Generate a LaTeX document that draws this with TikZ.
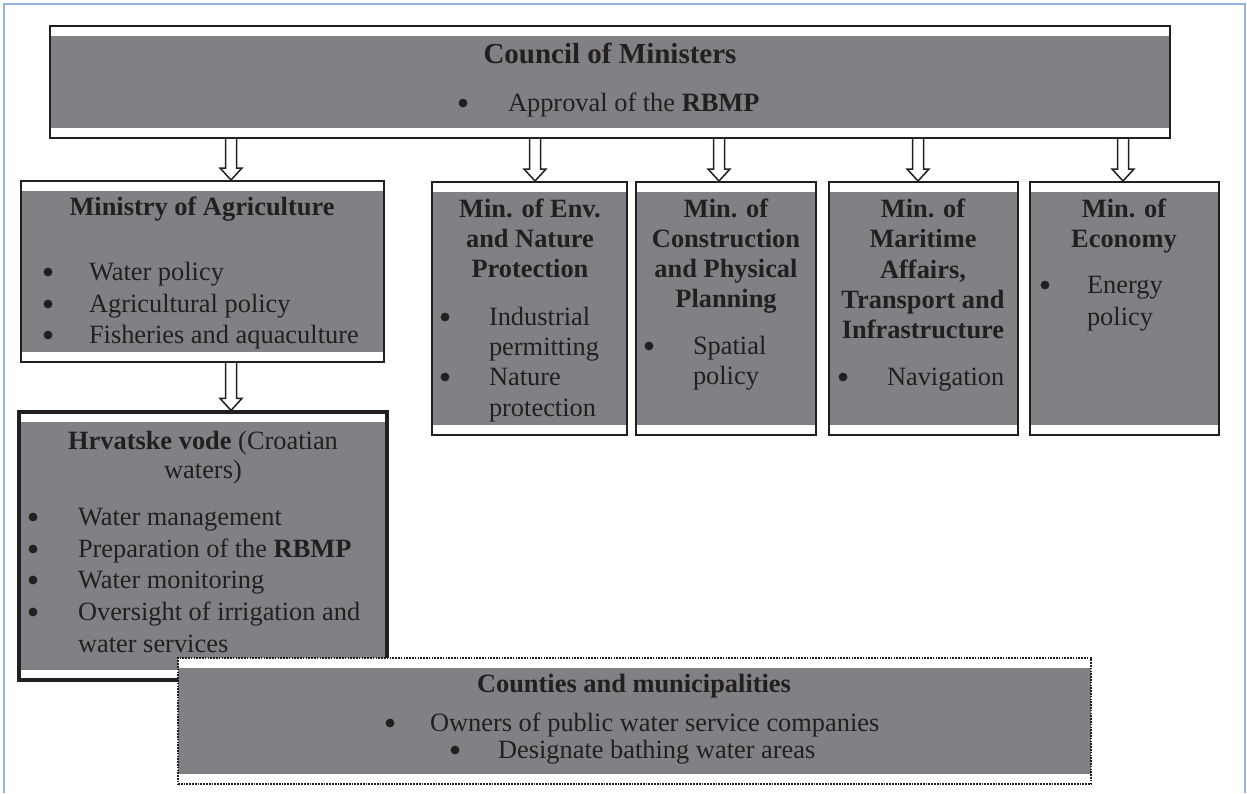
\documentclass[tikz,border=0pt]{standalone}
\usepackage{fontspec}
\setmainfont{Liberation Serif}
\usetikzlibrary{calc,fit}

\definecolor{panelgray}{RGB}{128,129,133}
\definecolor{ink}{RGB}{35,31,32}
\definecolor{frameblue}{RGB}{149,179,222}

\tikzset{
  panel/.style={draw=ink, line width=1pt, fill=white, inner sep=0pt,
    path picture={\fill[panelgray]
      ([yshift=-5pt]path picture bounding box.north west) rectangle
      ([yshift=5pt]path picture bounding box.south east);}},
  heavypanel/.style={panel, line width=1.6pt},
  dottedpanel/.style={panel, line width=0.85pt, dash pattern=on 0.85pt off 0.55pt},
  txt/.style={inner sep=0pt, outer sep=0pt, text=ink,
    font=\fontsize{13.2pt}{15pt}\selectfont},
  dot/.style={circle, fill=ink, inner sep=0pt, minimum size=4.4pt},
  hollowarrow/.style={draw=ink, line width=0.75pt, fill=white, line join=miter},
}

% hollow block arrow from #1 down to #2 (both given as coordinates)
\newcommand\blockarrow[2]{%
  \draw[hollowarrow] let \p1=#1, \p2=#2 in
    (\x1-2.75pt,\y1) -- (\x1-2.75pt,\y2+6pt) -- (\x1-5.5pt,\y2+6pt) -- (\x2,\y2)
    -- (\x1+5.5pt,\y2+6pt) -- (\x1+2.75pt,\y2+6pt) -- (\x1+2.75pt,\y1);}
% text helpers: bullet, left-aligned line, centred bold heading line, centred line
\newcommand\bulletat[3]{\node[dot] (#1) at (#2,{#3-8}) {};}
\newcommand\lineat[4]{\node[txt,anchor=base west] (#1) at (#2,#3) {#4};}
\newcommand\headat[4]{\node[txt,anchor=base,font=\fontsize{13.2pt}{15pt}\selectfont\bfseries] (#1) at (#2,#3) {#4};}
\newcommand\centreat[4]{\node[txt,anchor=base] (#1) at (#2,#3) {#4};}

\begin{document}
\begin{tikzpicture}[x=0.5pt,y=-0.5pt]
\useasboundingbox (0,0) rectangle (1247,793);

% outer frame
\draw[frameblue, line width=1pt] (3.5,793) -- (3.5,3.5) -- (1245,3.5) -- (1245,793);

% columns of the arrows
\coordinate (a1) at (231,0);
\coordinate (a2) at (535,0);
\coordinate (a3) at (719,0);
\coordinate (a4) at (918,0);
\coordinate (a5) at (1123,0);

% Council of Ministers
\node[panel, fit={(50,26) (1170,138)}] (council) {};
\node[txt, anchor=base, font=\fontsize{14.5pt}{16pt}\selectfont\bfseries] (council-t) at (610,63) {Council of Ministers};
\bulletat{council-b1}{463}{111}
\lineat{council-l1}{508}{111}{Approval of the \textbf{RBMP}}

% Ministry of Agriculture
\node[panel, fit={(21,181) (384,362)}] (agri) {};
\headat{agri-t}{202}{215}{Ministry of Agriculture}
\bulletat{agri-b1}{48}{280}
\lineat{agri-l1}{89}{280}{Water policy}
\bulletat{agri-b2}{48}{312}
\lineat{agri-l2}{89}{312}{Agricultural policy}
\bulletat{agri-b3}{48}{343}
\lineat{agri-l3}{89}{343}{Fisheries and aquaculture}

% Min. of Env. and Nature Protection
\node[panel, fit={(432,182) (627,435)}] (env) {};
\headat{env-t1}{530}{217}{Min. of Env.}
\headat{env-t2}{530}{247}{and Nature}
\headat{env-t3}{530}{277}{Protection}
\bulletat{env-b1}{445}{325}
\lineat{env-l1}{489}{325}{Industrial}
\lineat{env-l2}{489}{355}{permitting}
\bulletat{env-b2}{445}{385}
\lineat{env-l3}{489}{385}{Nature}
\lineat{env-l4}{489}{416}{protection}

% Min. of Construction and Physical Planning
\node[panel, fit={(636,182) (816,435)}] (constr) {};
\headat{constr-t1}{726}{217}{Min. of}
\headat{constr-t2}{726}{247}{Construction}
\headat{constr-t3}{726}{277}{and Physical}
\headat{constr-t4}{726}{307}{Planning}
\bulletat{constr-b1}{649}{354}
\lineat{constr-l1}{693}{354}{Spatial}
\lineat{constr-l2}{693}{384}{policy}

% Min. of Maritime Affairs, Transport and Infrastructure
\node[panel, fit={(829,182) (1018,435)}] (marit) {};
\headat{marit-t1}{923}{217}{Min. of}
\headat{marit-t2}{923}{247}{Maritime}
\headat{marit-t3}{923}{278}{Affairs,}
\headat{marit-t4}{923}{308}{Transport and}
\headat{marit-t5}{923}{338}{Infrastructure}
\bulletat{marit-b1}{843}{385}
\lineat{marit-l1}{887}{385}{Navigation}

% Min. of Economy
\node[panel, fit={(1030,182) (1219,435)}] (econ) {};
\headat{econ-t1}{1124}{217}{Min. of}
\headat{econ-t2}{1124}{247}{Economy}
\bulletat{econ-b1}{1045}{293}
\lineat{econ-l1}{1087}{293}{Energy}
\lineat{econ-l2}{1087}{325}{policy}

% Hrvatske vode
\node[heavypanel, fit={(19,412) (387,680)}] (hv) {};
\centreat{hv-t1}{203}{449}{\textbf{Hrvatske vode} (Croatian}
\centreat{hv-t2}{203}{478}{waters)}
\bulletat{hv-b1}{33}{525}
\lineat{hv-l1}{78}{525}{Water management}
\bulletat{hv-b2}{33}{557}
\lineat{hv-l2}{78}{557}{Preparation of the \textbf{RBMP}}
\bulletat{hv-b3}{33}{588}
\lineat{hv-l3}{78}{588}{Water monitoring}
\bulletat{hv-b4}{33}{620}
\lineat{hv-l4}{78}{620}{Oversight of irrigation and}
\lineat{hv-l5}{78}{652}{water services}

% Counties and municipalities
\node[dottedpanel, fit={(178,658) (1091,784)}] (counties) {};
\headat{counties-t}{634}{692}{Counties and municipalities}
\bulletat{counties-b1}{390}{731}
\lineat{counties-l1}{430}{731}{Owners of public water service companies}
\bulletat{counties-b2}{455}{758}
\lineat{counties-l2}{498}{758}{Designate bathing water areas}

% arrows
\blockarrow{(council.south -| a1)}{(agri.north -| a1)}
\blockarrow{(council.south -| a2)}{(env.north -| a2)}
\blockarrow{(council.south -| a3)}{(constr.north -| a3)}
\blockarrow{(council.south -| a4)}{(marit.north -| a4)}
\blockarrow{(council.south -| a5)}{(econ.north -| a5)}
\blockarrow{(agri.south -| a1)}{(hv.north -| a1)}
\end{tikzpicture}
\end{document}
